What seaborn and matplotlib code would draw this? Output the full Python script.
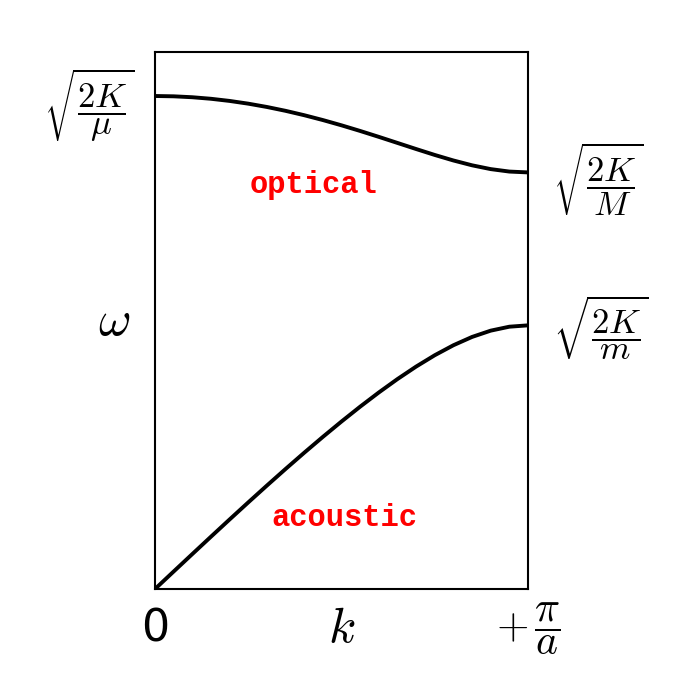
import numpy as np
import pandas as pd
import matplotlib
matplotlib.use("Agg")
import matplotlib.pyplot as plt
import seaborn as sns

# wavevector as fraction of pi/a
k_frac = [0.0, 0.05, 0.1, 0.15, 0.2, 0.25, 0.3, 0.35, 0.4, 0.45, 0.5,
          0.55, 0.6, 0.65, 0.7, 0.75, 0.8, 0.85, 0.9, 0.95, 1.0]
# frequencies (relative to sqrt(2K/mu))
omega_optical = [1.0, 0.99937, 0.99749, 0.99436, 0.99000, 0.98445, 0.97774, 0.96992,
                 0.96105, 0.95122, 0.94052, 0.92910, 0.91712, 0.90480, 0.89245,
                 0.88042, 0.86922, 0.85942, 0.85170, 0.84672, 0.84500]
omega_acoustic = [0.0, 0.03548, 0.07087, 0.10609, 0.14105, 0.17566, 0.20982, 0.24343,
                  0.27638, 0.30853, 0.33974, 0.36984, 0.39862, 0.42583, 0.45115,
                  0.47419, 0.49443, 0.51128, 0.52403, 0.53205, 0.53478]

x_tick_vals = [0.0, 1.0]
x_tick_labels = ["0", r"$+\,\dfrac{\pi}{a}$"]
left_label = r"$\sqrt{\dfrac{2K}{\mu}}$"
right_labels = [r"$\sqrt{\dfrac{2K}{M}}$", r"$\sqrt{\dfrac{2K}{m}}$"]

df = pd.DataFrame({
    "k": k_frac * 2,
    "omega": omega_optical + omega_acoustic,
    "branch": ["optical"] * len(k_frac) + ["acoustic"] * len(k_frac),
})

sns.set_theme(style="white")
plt.rcParams["mathtext.fontset"] = "cm"

fig = plt.figure(figsize=(6.96, 6.86), dpi=100)
ax = fig.add_axes([155 / 696, 97 / 686, 373 / 696, 537 / 686])

sns.lineplot(data=df, x="k", y="omega", units="branch", estimator=None,
             color="black", linewidth=2.8, ax=ax, sort=False)

ax.set_xlim(0, 1)
ax.set_ylim(0, 537 / 493)

for sp in ax.spines.values():
    sp.set_color("black")
    sp.set_linewidth(1.5)

ax.set_xticks(x_tick_vals)
ax.set_xticklabels(x_tick_labels)
ax.tick_params(axis="x", length=0, pad=29, labelsize=32, colors="black")
for lab in ax.get_xticklabels():
    lab.set_verticalalignment("center")
ax.get_xticklabels()[1].set_fontsize(30)
ax.set_yticks([])
ax.set_xlabel("")
ax.set_ylabel("")

# axis labels
ax.text(0.501, -0.073, r"$k$", transform=ax.transAxes, fontsize=36,
        ha="center", va="center", color="black")
ax.text(-0.11, (589 - 321) / 493, r"$\omega$", transform=ax.get_yaxis_transform(),
        fontsize=36, ha="center", va="center", color="black")

# frequency labels
ax.text(-0.054, (589 - 105) / 493, left_label, transform=ax.get_yaxis_transform(),
        fontsize=25, ha="right", va="center", color="black")
ax.text(1.067, (589 - 179) / 493, right_labels[0], transform=ax.get_yaxis_transform(),
        fontsize=25, ha="left", va="center", color="black")
ax.text(1.067, (589 - 328) / 493, right_labels[1], transform=ax.get_yaxis_transform(),
        fontsize=25, ha="left", va="center", color="black")

ax.text(0.426, 0.819, "optical", color="red", fontsize=22, fontweight="bold",
        family="Liberation Mono", ha="center", va="center")
ax.text(0.507, 0.144, "acoustic", color="red", fontsize=22, fontweight="bold",
        family="Liberation Mono", ha="center", va="center")

fig.savefig("out.png", dpi=100)
